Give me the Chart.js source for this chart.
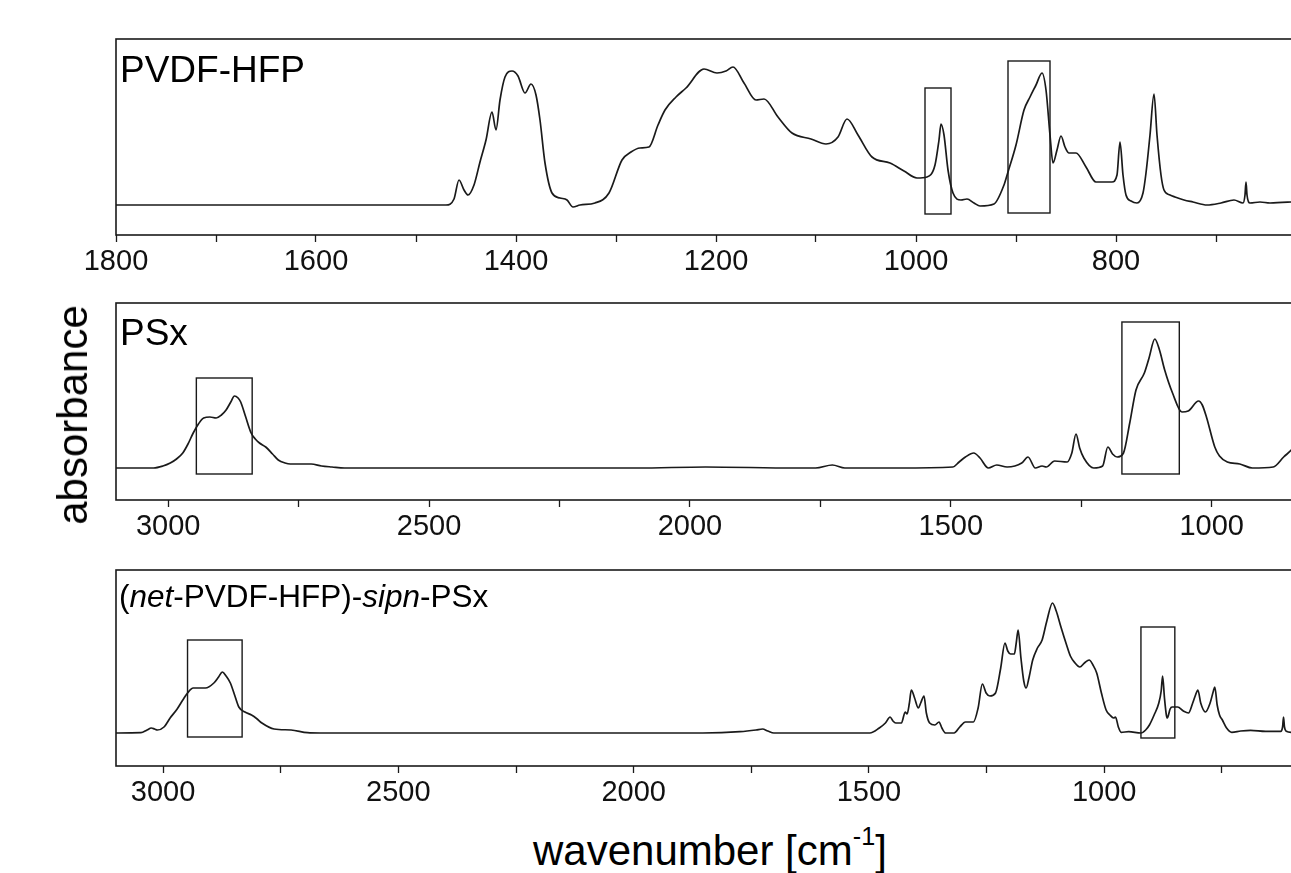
<!DOCTYPE html>
<html>
<head>
<meta charset="utf-8">
<script src="https://cdn.jsdelivr.net/npm/chart.js@4.4.1/dist/chart.umd.min.js"></script>
<style>
  html, body { margin: 0; padding: 0; width: 1291px; height: 873px; overflow: hidden; background: #fff; }
  canvas { position: absolute; left: 0; }
  .lbl { position: absolute; font-family: "Liberation Sans", Arial, sans-serif; color: #000; white-space: nowrap; line-height: 1; z-index: 2; }
  .lbl sup { font-size: 0.6em; position: relative; top: -0.2em; }
</style>
</head>
<body>
<canvas id="c1" width="1400" height="275" style="top:0px"></canvas>
<canvas id="c2" width="1400" height="276" style="top:264px"></canvas>
<canvas id="c3" width="1400" height="275" style="top:531px"></canvas>

<div class="lbl" style="left:120px; top:51px; font-size:37px;">PVDF-HFP</div>
<div class="lbl" style="left:120px; top:314px; font-size:37px;">PSx</div>
<div class="lbl" style="left:119px; top:581px; font-size:31.5px;">(<i>net</i>-PVDF-HFP)-<i>sipn</i>-PSx</div>
<div class="lbl" style="left:73px; top:415px; font-size:42px; transform: translate(-50%, -50%) rotate(-90deg);">absorbance</div>
<div class="lbl" style="left:533px; top:829px; font-size:42px;">wavenumber [cm<sup>-1</sup>]</div>

<script>
// PVDF-HFP spectrum
const wn1 = [1800, 1700, 1600, 1500, 1470, 1462, 1457, 1452, 1448, 1442, 1436, 1430, 1424, 1420, 1416, 1411, 1404, 1398, 1391, 1385, 1380, 1376, 1371, 1364, 1356, 1349, 1343, 1336, 1321, 1307, 1294, 1285, 1276, 1267, 1258, 1251, 1240, 1230, 1212, 1199, 1190, 1183, 1172, 1160, 1152, 1138, 1124, 1105, 1090, 1078, 1069, 1058, 1044, 1026, 1012, 999, 989, 981, 977, 975, 972, 968, 963, 955, 949, 942, 936, 922, 912, 908, 900, 892, 886, 880, 874, 870, 866, 863, 859, 855, 851, 847, 840, 830, 820, 812, 804, 799, 796, 793, 790, 785, 779, 773, 770, 766, 762, 759, 755, 752, 746, 741, 732, 723, 709, 695, 682, 673, 671, 670, 669, 666, 656, 646, 625, 600];
const ab1 = [0, 0, 0, 0, 0, 6, 25, 15, 10, 20, 43, 65, 93, 75, 105, 128, 134, 129, 112, 121, 110, 85, 42, 12, 7, 5, -2, 0, 2, 12, 45, 53, 57, 58, 80, 95, 108, 117, 136, 132, 134, 138, 122, 105, 106, 88, 72, 66, 61, 68, 86, 70, 48, 42, 34, 27, 28, 40, 65, 81, 70, 35, 12, 5, 6, 2, -1, 1, 20, 33, 60, 95, 108, 120, 132, 115, 70, 42, 55, 69, 58, 52, 52, 38, 23, 23, 23, 30, 63, 30, 10, 4, 2, 12, 32, 70, 111, 70, 30, 15, 10, 8, 5, 3, 0, 2, 5, 2, 10, 23, 10, 2, 3, 2, 3, 5];

// PSx spectrum
const wn2 = [3100, 3028, 3010, 2996, 2984, 2972, 2962, 2952, 2942, 2932, 2920, 2908, 2898, 2889, 2880, 2873, 2866, 2861, 2852, 2841, 2833, 2825, 2813, 2800, 2789, 2776, 2766, 2746, 2726, 2706, 2686, 2662, 2300, 2100, 1970, 1800, 1759, 1727, 1703, 1600, 1496, 1484, 1472, 1456, 1444, 1428, 1412, 1392, 1364, 1352, 1338, 1325, 1317, 1301, 1277, 1268, 1260, 1253, 1245, 1226, 1209, 1199, 1190, 1181, 1169, 1157, 1145, 1129, 1120, 1109, 1100, 1090, 1075, 1057, 1045, 1025, 1018, 1010, 994, 985, 970, 946, 922, 882, 862, 844, 830, 815, 800];
const ab2 = [0, 0, 2, 5, 9, 15, 24, 35, 44, 50, 51, 50, 53, 58, 66, 72, 70, 66, 52, 35, 29, 25, 21, 14, 8, 5, 4, 4, 4, 2, 1, 0, 0, 0, 1, 0, 0, 3, 0, 0, 1, 6, 11, 15, 10, 0, 3, 1, 5, 11, 0, 2, 1, 7, 6, 15, 34, 20, 10, 0, 2, 21, 14, 11, 15, 45, 78, 95, 110, 129, 118, 98, 75, 56, 57, 67, 63, 51, 21, 12, 6, 4, 0, 1, 11, 20, 32, 40, 42];

// (net-PVDF-HFP)-sipn-PSx spectrum
const wn3 = [3100, 3047, 3034, 3025, 3018, 3012, 2998, 2985, 2970, 2958, 2948, 2936, 2922, 2910, 2892, 2882, 2874, 2866, 2857, 2848, 2839, 2826, 2812, 2800, 2790, 2764, 2728, 2693, 2666, 2000, 1853, 1774, 1740, 1726, 1715, 1702, 1498, 1478, 1465, 1455, 1449, 1443, 1431, 1423, 1419, 1414, 1410, 1403, 1395, 1390, 1383, 1378, 1371, 1360, 1351, 1345, 1337, 1319, 1307, 1295, 1278, 1268, 1259, 1251, 1243, 1231, 1220, 1211, 1205, 1199, 1191, 1187, 1183, 1177, 1171, 1166, 1160, 1152, 1142, 1132, 1122, 1110, 1102, 1092, 1080, 1072, 1062, 1052, 1042, 1032, 1024, 1016, 1006, 996, 988, 980, 976, 970, 964, 948, 922, 912, 904, 894, 884, 879, 876, 872, 868, 866, 860, 856, 844, 832, 821, 812, 806, 801, 795, 785, 775, 768, 765, 760, 755, 749, 740, 729, 710, 689, 657, 625, 621, 619, 617, 613, 603, 580, 550];
const ab3 = [0, 0.3, 3, 5, 4, 3, 6, 15, 24, 33, 40, 45, 45, 45, 50, 56, 61, 57, 50, 38, 26, 21, 18, 14, 10, 4, 3, 0.3, 0, 0, 0, 1.3, 3, 4, 2, 0, 0, 5, 10, 16, 12, 10, 10, 21, 19, 30, 43, 35, 25, 30, 37, 20, 10, 8, 11, 5, 0, 0, 6, 11, 11, 25, 49, 40, 37, 40, 65, 90, 82, 79, 79, 90, 103, 75, 52, 45, 55, 73, 85, 93, 112, 130, 122, 106, 88, 77, 70, 66, 70, 73, 68, 60, 40, 23, 18, 15, 16, 6, 0.7, 1.3, 0, 3, 8, 18, 30, 42, 57, 35, 18, 15, 24, 26, 26, 22, 20, 30, 38, 43, 30, 21, 30, 42, 46, 28, 18, 13, 5, 0.7, 2, 2.7, 1.7, 1.7, 6, 16, 6, 1.7, 0.7, 1, 1];

// x tick positions (labelled every second one)
const ticks1 = [1800, 1700, 1600, 1500, 1400, 1300, 1200, 1100, 1000, 900, 800, 700, 600];
const ticks2 = [3000, 2750, 2500, 2250, 2000, 1750, 1500, 1250, 1000, 800];
const ticks3 = [3000, 2750, 2500, 2250, 2000, 1750, 1500, 1250, 1000, 750];

// marked regions: [high wn, low wn] and [top, bottom] absorbance
const boxWn1 = [[991, 965], [908, 866]];
const boxAb1 = [[117, -9], [144, -8]];
const boxWn2 = [[2946, 2839], [1172, 1062]];
const boxAb2 = [[90, -6], [146, -6]];
const boxWn3 = [[2948, 2832], [922, 850]];
const boxAb3 = [[93, -4], [106, -5]];

const ink = '#1a1a1a';

const framePlugin = {
  id: 'frame',
  afterDatasetsDraw(chart, args, opts) {
    const { ctx, chartArea: a, scales: { x, y } } = chart;
    ctx.save();
    ctx.strokeStyle = ink;
    ctx.lineWidth = 1.6;
    ctx.strokeRect(a.left, a.top, a.width, a.height);
    ctx.lineWidth = 1.4;
    opts.wn.forEach((w, i) => {
      const x0 = x.getPixelForValue(w[0]);
      const x1 = x.getPixelForValue(w[1]);
      const y0 = y.getPixelForValue(opts.ab[i][0]);
      const y1 = y.getPixelForValue(opts.ab[i][1]);
      ctx.strokeRect(x0, y0, x1 - x0, y1 - y0);
    });
    ctx.restore();
  }
};

function makePanel(id, wn, ab, xMin, xMax, yMin, yMax, tickVals, labelStep, bWn, bAb) {
  const ctx = document.getElementById(id).getContext('2d');
  return new Chart(ctx, {
    type: 'line',
    data: {
      datasets: [{
        data: wn.map((w, i) => ({ x: w, y: ab[i] })),
        borderColor: ink,
        borderWidth: 1.7,
        pointRadius: 0,
        fill: false,
        cubicInterpolationMode: 'monotone'
      }]
    },
    options: {
      responsive: false,
      animation: false,
      devicePixelRatio: 1,
      layout: { padding: { left: 116, right: 84, top: 39, bottom: 0 } },
      plugins: {
        legend: { display: false },
        tooltip: { enabled: false },
        frame: { wn: bWn, ab: bAb }
      },
      scales: {
        x: {
          type: 'linear',
          min: xMin,
          max: xMax,
          reverse: true,
          border: { display: false },
          grid: {
            drawOnChartArea: false,
            drawTicks: true,
            tickLength: 7,
            tickColor: ink,
            tickWidth: 1.3
          },
          afterBuildTicks: (axis) => { axis.ticks = tickVals.map(v => ({ value: v })); },
          afterFit: (axis) => { axis.height = 40; },
          ticks: {
            autoSkip: false,
            maxRotation: 0,
            padding: 3,
            color: '#111',
            font: { family: 'Liberation Sans', size: 29 },
            callback: (v) => (v % labelStep === 0 ? String(v) : '')
          }
        },
        y: { display: false, min: yMin, max: yMax }
      }
    },
    plugins: [framePlugin]
  });
}

makePanel('c1', wn1, ab1, 600, 1800, -30, 166, ticks1, 200, boxWn1, boxAb1);
makePanel('c2', wn2, ab2, 800, 3100, -32, 165, ticks2, 500, boxWn2, boxAb2);
makePanel('c3', wn3, ab3, 550, 3100, -33, 163, ticks3, 500, boxWn3, boxAb3);
</script>
</body>
</html>
